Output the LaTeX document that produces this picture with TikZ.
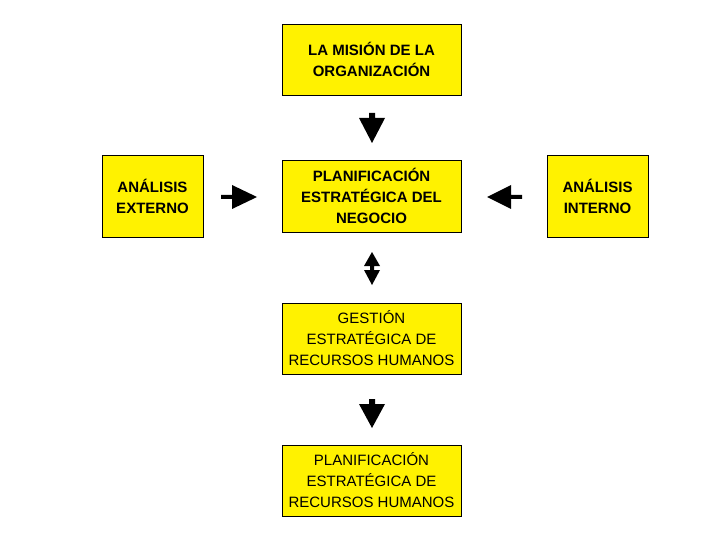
\documentclass[tikz,border=0pt]{standalone}
\usepackage{fontspec}
\setmainfont{Liberation Sans}
\begin{document}
\begin{tikzpicture}[x=1pt,y=-1pt,
 box/.style={draw=black,fill=yellow,align=center,inner sep=0pt,font=\fontsize{15}{21}\selectfont},
 bbox/.style={box,font=\fontsize{15}{21}\selectfont\bfseries}]
\useasboundingbox (0,0) rectangle (720,540);
\node[bbox,minimum width=179pt,minimum height=71pt] (mis) at (371.5,59.5) {LA MISIÓN DE LA\\ORGANIZACIÓN};
\node[bbox,minimum width=179pt,minimum height=72pt] (plan) at (371.5,196) {PLANIFICACIÓN\\ESTRATÉGICA DEL\\NEGOCIO};
\node[bbox,minimum width=101pt,minimum height=82pt] (ext) at (152.5,196) {ANÁLISIS\\EXTERNO};
\node[bbox,minimum width=101pt,minimum height=82pt] (int) at (597.5,196) {ANÁLISIS\\INTERNO};
\node[box,minimum width=179pt,minimum height=71pt] (ges) at (371.5,338.5) {GESTIÓN\\ESTRATÉGICA DE\\RECURSOS HUMANOS};
\node[box,minimum width=179pt,minimum height=71pt] (pe) at (371.5,480.5) {PLANIFICACIÓN\\ESTRATÉGICA DE\\RECURSOS HUMANOS};
% down arrows
\fill (369,113) -- (375,113) -- (375,118) -- (385,118) -- (372,143) -- (359,118) -- (369,118) -- cycle;
\fill (369,399) -- (375,399) -- (375,404) -- (385,404) -- (372,428) -- (359,404) -- (369,404) -- cycle;
% right arrow
\fill (221,195) -- (232,195) -- (232,185) -- (257,197) -- (232,209) -- (232,199) -- (221,199) -- cycle;
% left arrow
\fill (522,195) -- (511,195) -- (511,185) -- (487,197) -- (511,209) -- (511,199) -- (522,199) -- cycle;
% double arrow
\fill (372,252) -- (380,266) -- (374,266) -- (374,270) -- (380,270) -- (372,285) -- (364,270) -- (370,270) -- (370,266) -- (364,266) -- cycle;
\end{tikzpicture}
\end{document}
